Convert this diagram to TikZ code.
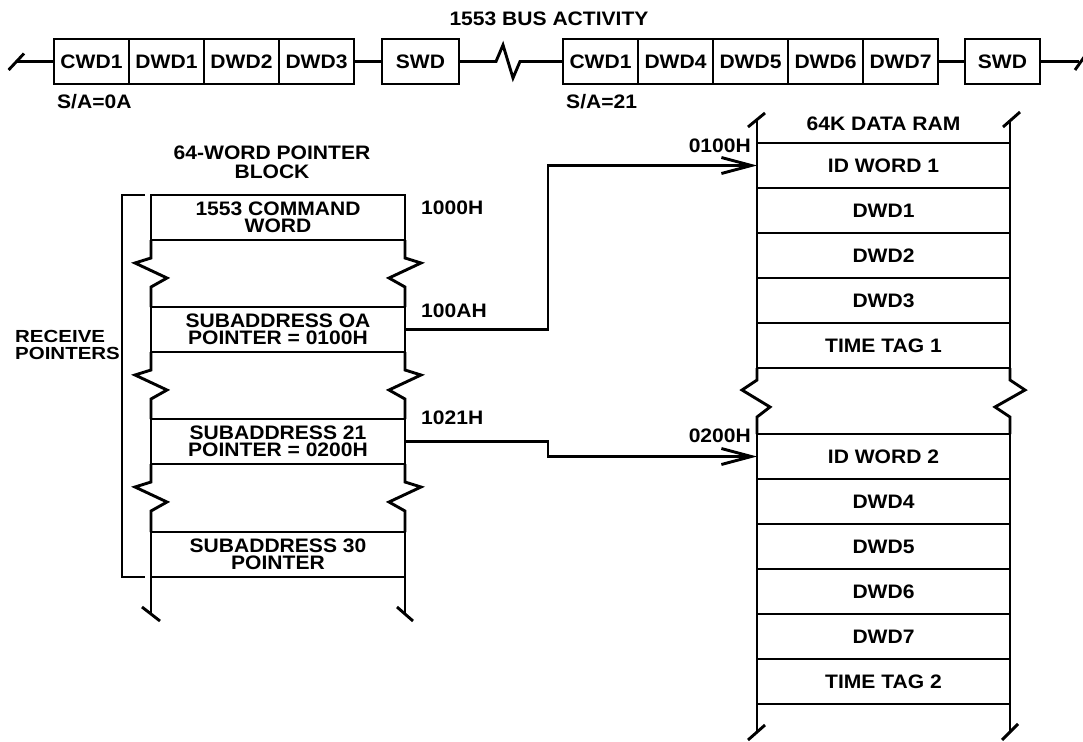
\documentclass[tikz,border=0pt]{standalone}
\usepackage{fontspec}
\newfontfamily\lab{Liberation Sans}[FakeStretch=1.08]
\newfontfamily\labw{Liberation Sans}[FakeStretch=1.17]
\usetikzlibrary{arrows.meta}
\newcommand{\labfont}{\lab\bfseries\fontsize{19.5}{17.5}\selectfont}
\newcommand{\ttlfont}{\lab\bfseries\fontsize{19.5}{19}\selectfont}
\newcommand{\smallfont}{\labw\bfseries\fontsize{17.5}{17.5}\selectfont}
\begin{document}
\begin{tikzpicture}[x=1pt,y=-1pt,
  every node/.style={font=\labfont, inner sep=0pt},
  wire/.style={line width=2.9pt},
  cell/.style={draw, line width=2.9pt, minimum height=45pt, outer sep=0pt, align=center},
  buscell/.style={cell, minimum width=75pt},
  ptrcell/.style={cell, minimum width=254pt},
  ramcell/.style={cell, minimum width=253pt},
  lbl/.style={anchor=base west},
  ptr/.style={wire, -{Straight Barb[length=30pt,width=16pt]}}
]
\useasboundingbox (0,0) rectangle (1083,741);

% ---------- bus activity ----------
\node[anchor=base] (title) at (549,26) {1553 BUS ACTIVITY};
\node[buscell, anchor=west] (a1) at (54,61.5) {CWD1};
\node[buscell, anchor=west] (a2) at (a1.east) {DWD1};
\node[buscell, anchor=west] (a3) at (a2.east) {DWD2};
\node[buscell, anchor=west] (a4) at (a3.east) {DWD3};
\node[buscell, minimum width=77pt] (s1) at (420.5,61.5) {SWD};
\node[buscell, anchor=west] (b1) at (563,61.5) {CWD1};
\node[buscell, anchor=west] (b2) at (b1.east) {DWD4};
\node[buscell, anchor=west] (b3) at (b2.east) {DWD5};
\node[buscell, anchor=west] (b4) at (b3.east) {DWD6};
\node[buscell, anchor=west] (b5) at (b4.east) {DWD7};
\node[buscell] (s2) at (1002.5,61.5) {SWD};
\coordinate (busL) at (16,61.5);
\coordinate (busR) at (1079,61.5);
\draw[wire] (8.6,70) -- (24,53.5);
\draw[wire] (busL) -- (a1.west);
\draw[wire] (a4.east) -- (s1.west);
\draw[wire] (s1.east) -- (496,61.5) -- (503,45) -- (513,78) -- (520,61.5) -- (b1.west);
\draw[wire] (b5.east) -- (s2.west);
\draw[wire] (s2.east) -- (busR);
\draw[wire] (1075,70) -- (1087,53);
\node[lbl] (sa0a) at (57,109) {S/A=0A};
\node[lbl] (sa21l) at (566,109) {S/A=21};

% ---------- pointer block ----------
\node[align=center, font=\ttlfont] (pbt) at (272,162) {64-WORD POINTER\\BLOCK};
\node[ptrcell] (cmd) at (278,217.5) {1553 COMMAND\\WORD};
\node[ptrcell] (saOA) at (278,329.5) {SUBADDRESS OA\\POINTER = 0100H};
\node[ptrcell] (sa21) at (278,441.5) {SUBADDRESS 21\\POINTER = 0200H};
\node[ptrcell] (sa30) at (278,554.5) {SUBADDRESS 30\\POINTER};
\foreach \u/\v in {cmd/saOA, saOA/sa21, sa21/sa30}{
  \draw[wire] (\u.south west) -- ++(0,18) -- ++(-16,5) -- ++(32,15) -- ++(-16,9) -- (\v.north west);
  \draw[wire] (\u.south east) -- ++(0,18) -- ++(16,5) -- ++(-32,15) -- ++(16,9) -- (\v.north east);
}
\draw[wire] (sa30.south west) -- ++(0,37);
\draw[wire] (sa30.south east) -- ++(0,37);
\draw[wire] (sa30.south west) ++(-9,30) -- ++(18,14);
\draw[wire] (sa30.south east) ++(-8,30) -- ++(16,14);
\draw[wire] (145,195) -- (122,195) -- (122,577) -- (145,577);
\node[align=left, anchor=west, font=\smallfont] (recv) at (15,345) {RECEIVE\\POINTERS};
\node[lbl] (l1000) at (421,214) {1000H};
\node[lbl] (l100A) at (421,317) {100AH};
\node[lbl] (l1021) at (421,424) {1021H};

% ---------- data RAM ----------
\node[anchor=base] (ramt) at (883.5,130) {64K DATA RAM};
\node[ramcell] (idw1) at (883.5,165.5) {ID WORD 1};
\node[ramcell] (r1) at (883.5,210.5) {DWD1};
\node[ramcell] (r2) at (883.5,255.5) {DWD2};
\node[ramcell] (r3) at (883.5,300.5) {DWD3};
\node[ramcell] (tt1) at (883.5,345.5) {TIME TAG 1};
\node[ramcell] (idw2) at (883.5,456.5) {ID WORD 2};
\node[ramcell] (r4) at (883.5,501.5) {DWD4};
\node[ramcell] (r5) at (883.5,546.5) {DWD5};
\node[ramcell] (r6) at (883.5,591.5) {DWD6};
\node[ramcell] (r7) at (883.5,636.5) {DWD7};
\node[ramcell] (tt2) at (883.5,681.5) {TIME TAG 2};
\draw[wire] (idw1.north west) -- ++(0,-23);
\draw[wire] (idw1.north east) -- ++(0,-23);
\draw[wire] (idw1.north west) ++(-9,-16) -- ++(17,-14);
\draw[wire] (idw1.north east) ++(-7,-16) -- ++(17,-15);
\draw[wire] (tt1.south west) -- ++(0,12) -- ++(-15,10) -- ++(28,17) -- ++(-13,10) -- (idw2.north west);
\draw[wire] (tt1.south east) -- ++(0,12) -- ++(15,10) -- ++(-30,17) -- ++(15,10) -- (idw2.north east);
\draw[wire] (tt2.south west) -- ++(0,29);
\draw[wire] (tt2.south east) -- ++(0,29);
\draw[wire] (tt2.south west) ++(-9,36) -- ++(17,-15);
\draw[wire] (tt2.south east) ++(-8,36) -- ++(16,-16);
\node[anchor=base east] (l0100) at (751,152) {0100H};
\node[anchor=base east] (l0200) at (751,442) {0200H};

% ---------- pointers ----------
\draw[ptr] (saOA.east) -- ++(143,0) |- (idw1.west);
\draw[ptr] (sa21.east) -- ++(143,0) |- (idw2.west);
\end{tikzpicture}
\end{document}
